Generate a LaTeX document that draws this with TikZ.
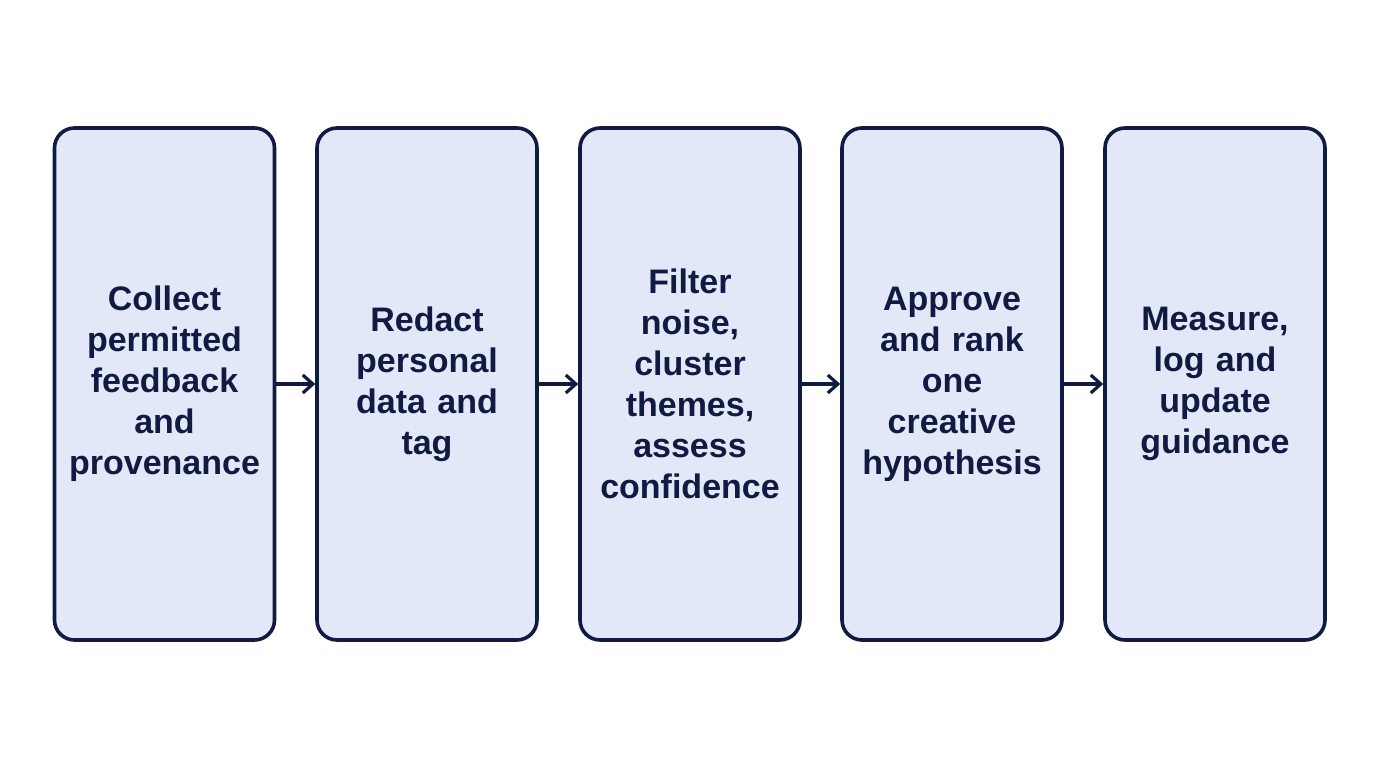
\documentclass[tikz,border=0pt]{standalone}
\usepackage{fontspec}
\setmainfont{Liberation Sans}
\usetikzlibrary{arrows.meta}
\definecolor{navy}{HTML}{111A40}
\definecolor{boxfill}{HTML}{E2E8F8}
\tikzset{
  stepbox/.style={draw=navy, line width=1.8pt, fill=boxfill, rounded corners=10pt,
    minimum width=110pt, minimum height=256pt, align=center, text width=106pt,
    font=\fontsize{17}{20.5}\selectfont\bfseries, text=navy, inner sep=0pt},
  conn/.style={draw=navy, line width=1.6pt, -{Straight Barb[length=5pt,width=9pt]}}
}
\begin{document}
\begin{tikzpicture}[x=1pt,y=1pt]
\useasboundingbox (0,0) rectangle (688,384);
\node[stepbox] (a) at (82.25,192) {Collect\\permitted\\feedback\\and\\provenance};
\node[stepbox] (b) at (213.5,192) {Redact\\personal\\data and\\tag};
\node[stepbox] (c) at (345,192) {Filter\\noise,\\cluster\\themes,\\assess\\confidence};
\node[stepbox] (d) at (476,192) {Approve\\and rank\\one\\creative\\hypothesis};
\node[stepbox] (e) at (607.5,192) {Measure,\\log and\\update\\guidance};
\draw[conn] (a.east) -- (b.west);
\draw[conn] (b.east) -- (c.west);
\draw[conn] (c.east) -- (d.west);
\draw[conn] (d.east) -- (e.west);
\end{tikzpicture}
\end{document}
